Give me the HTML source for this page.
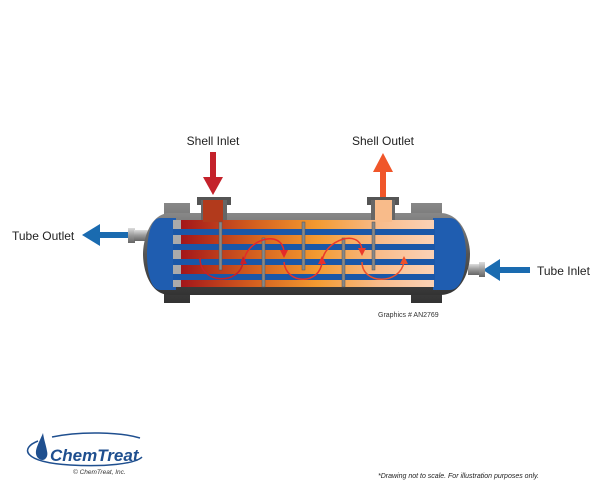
<!DOCTYPE html>
<html><head><style>
body{margin:0;background:#fff;}
svg{display:block;font-family:"Liberation Sans",sans-serif;}
</style></head><body>
<svg width="600" height="500" viewBox="0 0 600 500">
<defs>
<linearGradient id="sg" x1="0" x2="1">
<stop offset="0" stop-color="#a3151a"/>
<stop offset="0.3" stop-color="#d4601f"/>
<stop offset="0.55" stop-color="#f39a30"/>
<stop offset="0.8" stop-color="#f8bb8a"/>
<stop offset="1" stop-color="#fbd0b2"/>
</linearGradient>
<linearGradient id="gy" x1="0" y1="0" x2="0" y2="1">
<stop offset="0" stop-color="#888"/><stop offset="0.5" stop-color="#555"/><stop offset="1" stop-color="#333"/>
</linearGradient>
<linearGradient id="nz" x1="0" y1="0" x2="0" y2="1">
<stop offset="0" stop-color="#ddd"/><stop offset="0.5" stop-color="#999"/><stop offset="1" stop-color="#666"/>
</linearGradient>
</defs>
<text x="213" y="145" font-size="12" text-anchor="middle" fill="#222">Shell Inlet</text>
<text x="383" y="145" font-size="12" text-anchor="middle" fill="#222">Shell Outlet</text>
<text x="12" y="240" font-size="12" fill="#222">Tube Outlet</text>
<text x="537" y="275" font-size="12" fill="#222">Tube Inlet</text>
<text x="378" y="317" font-size="7" fill="#333">Graphics # AN2769</text>
<rect x="210" y="152" width="6" height="28" fill="#c4222b"/>
<polygon points="203,177 223,177 213,195" fill="#c4222b"/>
<rect x="380" y="170" width="6" height="27" fill="#f0562a"/>
<polygon points="373,172 393,172 383,153" fill="#f0562a"/>
<rect x="98" y="232" width="34" height="6" fill="#1a6bb0"/>
<polygon points="100,224 100,246 82,235" fill="#1a6bb0"/>
<rect x="497" y="267" width="33" height="6" fill="#1a6bb0"/>
<polygon points="500,259 500,281 483,270" fill="#1a6bb0"/>
<rect x="128" y="228" width="7" height="15" fill="url(#nz)"/>
<rect x="134" y="230" width="14" height="11" fill="url(#nz)"/>
<rect x="468" y="264" width="12" height="11" fill="url(#nz)"/>
<rect x="479" y="262" width="6" height="15" fill="url(#nz)"/>
<rect x="164" y="203" width="26" height="100" fill="url(#gy)"/>
<rect x="411" y="203" width="31" height="100" fill="url(#gy)"/>
<path d="M170,213 H440 C462,213 470,240 470,254 C470,270 462,295 440,295 H170 C150,295 143,270 143,254 C143,240 150,213 170,213Z" fill="url(#gy)"/>
<path d="M176,218 H160 C150,218 147,240 147,254 C147,270 150,290 160,290 H176Z" fill="#1f5db0"/>
<path d="M433,218 H450 C462,218 466,240 466,254 C466,270 462,290 450,290 H433Z" fill="#1f5db0"/>
<rect x="197" y="197" width="34" height="8" fill="#555"/>
<rect x="201" y="200" width="26" height="20" fill="#666"/>
<rect x="367" y="197" width="32" height="8" fill="#555"/>
<rect x="371" y="200" width="24" height="20" fill="#666"/>
<rect x="180" y="220" width="248" height="67" fill="url(#sg)"/>
<rect x="203" y="200" width="20" height="22" fill="#b23a1c"/>
<rect x="375" y="200" width="17" height="22" fill="#f8bb8a"/>
<rect x="173" y="220" width="8" height="67" fill="#aaa"/>
<rect x="428" y="220" width="6" height="67" fill="#fbd0b2"/>
<g fill="#1a57a8">
<rect x="173" y="229" width="262" height="6"/>
<rect x="173" y="244" width="262" height="6"/>
<rect x="173" y="259" width="262" height="6"/>
<rect x="173" y="274" width="262" height="6"/>
</g>
<g fill="#888" stroke="#555" stroke-width="0.5">
<rect x="219" y="222" width="3" height="48"/>
<rect x="262" y="238" width="3" height="49"/>
<rect x="302" y="222" width="3" height="48"/>
<rect x="342" y="238" width="3" height="49"/>
<rect x="372" y="222" width="3" height="48"/>
</g>
<g fill="none" stroke-width="1.5">
<path d="M200,258 C200,285 240,285 243,262" stroke="#c8202a"/>
<path d="M244,262 C245,240 282,228 284,252" stroke="#e52a2a"/>
<path d="M284,262 C286,285 320,285 322,262" stroke="#e8302a"/>
<path d="M322,262 C324,240 360,228 362,250" stroke="#ec3a2a"/>
<path d="M362,262 C362,285 400,285 404,262" stroke="#f0502a"/>
</g>
<g>
<polygon points="240,264 247,264 243,256" fill="#c8202a"/>
<polygon points="280,250 288,250 284,258" fill="#e52a2a"/>
<polygon points="318,264 326,264 322,256" fill="#e8302a"/>
<polygon points="358,248 366,248 362,256" fill="#ec3a2a"/>
<polygon points="400,264 408,264 404,256" fill="#f0502a"/>
</g>
<!-- logo -->
<g fill="none" stroke="#1f4f8f" stroke-width="1.5">
<path d="M38,441 C20,448 22,462 70,465 C105,467 135,464 142,457"/>
<path d="M52,437 C80,431 120,432 140,438"/>
</g>
<path d="M43,433 C38,445 33,452 38,458 C43,463 49,458 47,451 C46,445 44,440 43,433Z" fill="#1f4f8f"/>
<text x="50" y="461" font-size="17" font-weight="bold" font-style="italic" fill="#1f4f8f">ChemTreat</text>
<text x="73" y="474" font-size="6.5" font-style="italic" fill="#333">© ChemTreat, Inc.</text>
<text x="378" y="478" font-size="7" font-style="italic" fill="#222">*Drawing not to scale. For illustration purposes only.</text>
</svg>
</body></html>
